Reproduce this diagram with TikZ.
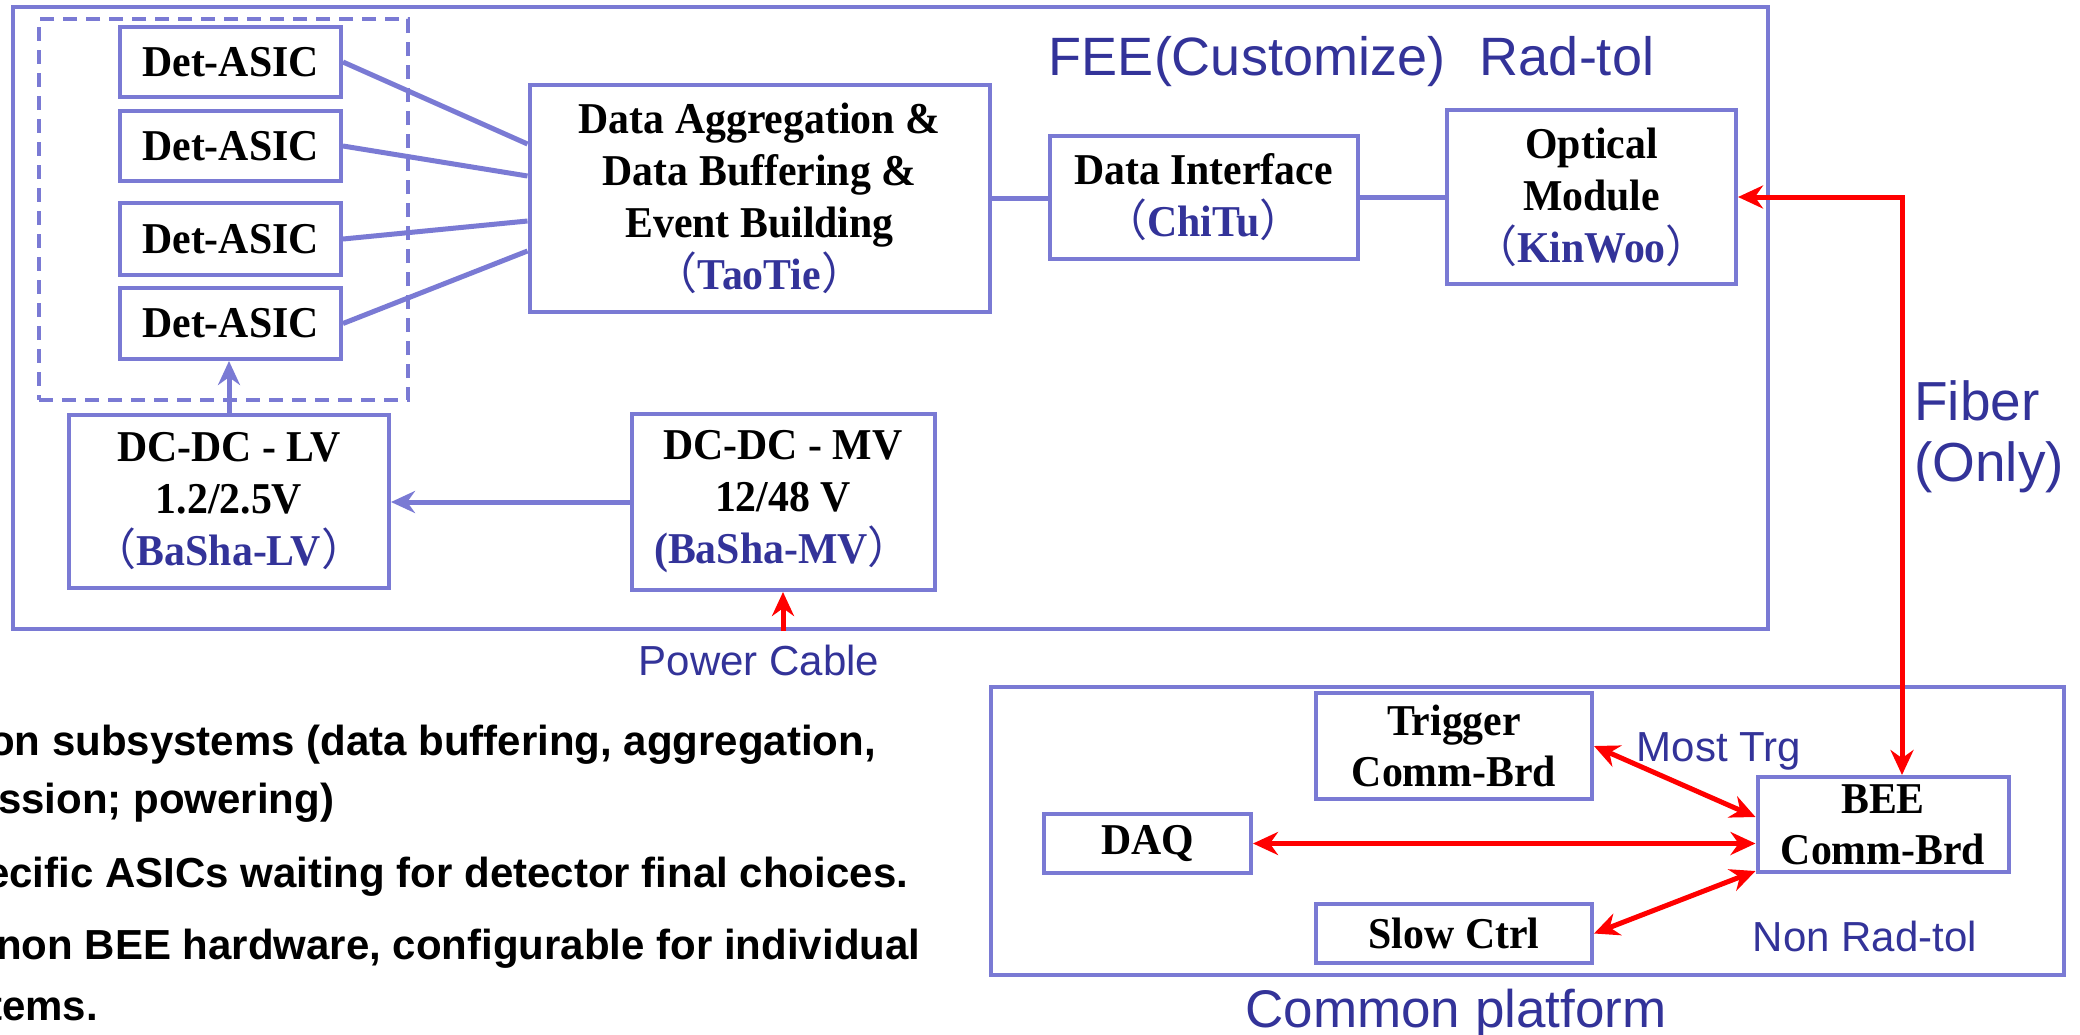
\documentclass[tikz,border=0pt]{standalone}
\usepackage{fontspec}
\setmainfont[FakeStretch=0.95]{Liberation Serif}
\newfontfamily\arialf{Liberation Sans}
\newfontfamily\cjkf{Noto Sans CJK SC}
\usetikzlibrary{arrows.meta}
\definecolor{bord}{RGB}{122,122,212}
\definecolor{lblue}{RGB}{51,51,153}
\newcommand{\fwl}{{\cjkf\mdseries （}}
\newcommand{\fwr}{{\cjkf\mdseries ）}}
\begin{document}
\begin{tikzpicture}[x=1pt,y=-1pt,
 box/.style={draw=bord,line width=4pt,inner sep=0pt,align=center,font=\fontsize{44}{51}\selectfont\bfseries},
 mbox/.style={box,font=\fontsize{44}{52}\selectfont\bfseries},
 conn/.style={draw=bord,line width=5pt},
 barrow/.style={draw=bord,line width=5pt,-{Stealth[length=24pt,width=22pt]}},
 rarrow/.style={draw=red,line width=5pt,{Stealth[length=25pt,width=23pt]}-{Stealth[length=25pt,width=23pt]}},
 rsingle/.style={draw=red,line width=5pt,-{Stealth[length=24pt,width=22pt]}},
 lbl/.style={text=lblue,font=\arialf\fontsize{54}{61}\selectfont,inner sep=0pt},
 slbl/.style={text=lblue,font=\arialf\fontsize{42}{42}\selectfont,inner sep=0pt},
 bul/.style={font=\arialf\bfseries\fontsize{42}{42}\selectfont,inner sep=0pt,anchor=base west}]
\clip (0,0) rectangle (2080,1034);
\fill[white] (0,0) rectangle (2080,1034);

% FEE outer box and dashed group
\node[draw=bord,line width=4pt,minimum width=1755pt,minimum height=622pt,inner sep=0pt] (fee) at (890.5,318) {};
\node[draw=bord,line width=4pt,dash pattern=on 14pt off 9pt,minimum width=369pt,minimum height=381pt,inner sep=0pt] (grp) at (223.5,209.5) {};

% Det-ASIC boxes
\node[box,minimum width=221pt,minimum height=70pt] (a1) at (230.5,62) {Det-ASIC};
\node[box,minimum width=221pt,minimum height=70pt] (a2) at (230.5,146) {Det-ASIC};
\node[box,minimum width=221pt,minimum height=72pt] (a3) at (230.5,239) {Det-ASIC};
\node[box,minimum width=221pt,minimum height=71pt] (a4) at (230.5,323.5) {Det-ASIC};

\node[mbox,minimum width=460pt,minimum height=227pt] (agg) at (759.5,198)
 {Data Aggregation \&\\Data Buffering \&\\Event Building\\{\color{lblue}\fwl TaoTie\fwr}};
\node[mbox,minimum width=308pt,minimum height=123pt] (dif) at (1203.5,197)
 {Data Interface\\{\color{lblue}\fwl ChiTu\fwr}};
\node[mbox,minimum width=289pt,minimum height=174pt] (opt) at (1591.5,197)
 {Optical\\Module\\{\color{lblue}\fwl KinWoo\fwr}};

\node[mbox,minimum width=320pt,minimum height=173pt] (lv) at (229,501.5)
 {DC-DC - LV\\1.2/2.5V\\{\color{lblue}\fwl BaSha-LV\fwr}};
\node[mbox,minimum width=303pt,minimum height=176pt] (mv) at (783,502)
 {DC-DC - MV\\12/48 V\\{\color{lblue}(BaSha-MV\fwr}};

% FEE labels
\node[lbl,anchor=base] (feel) at (1247,75) {FEE(Customize)};
\node[lbl,anchor=base] (radl) at (1567,75) {Rad-tol};

% connectors in FEE
\draw[conn] (a1.east) -- ([yshift=54pt]agg.west);
\draw[conn] (a2.east) -- ([yshift=22pt]agg.west);
\draw[conn] (a3.east) -- ([yshift=-23pt]agg.west);
\draw[conn] (a4.east) -- ([yshift=-53pt]agg.west);
\draw[conn] (agg.east) -- (agg.east -| dif.west);
\draw[conn] (dif.east) -- (dif.east -| opt.west);
\draw[barrow] (mv.west) -- (mv.west -| lv.east);
\draw[barrow] (lv.north) -- (lv.north |- a4.south);

% power cable
\coordinate (pcs) at (mv.south |- fee.south);
\draw[rsingle] (pcs) -- (mv.south);
\node[slbl,anchor=base] (pcl) at (759,675) {Power Cable};

% Common platform
\node[draw=bord,line width=4pt,minimum width=1073pt,minimum height=288pt,inner sep=0pt] (cp) at (1527.5,831) {};
\node[box,minimum width=276pt,minimum height=106pt] (trg) at (1454,746) {Trigger\\Comm-Brd};
\node[box,minimum width=207pt,minimum height=59pt] (daq) at (1147.5,843.5) {DAQ};
\node[box,minimum width=251pt,minimum height=95pt] (bee) at (1883,824.5) {BEE\\Comm-Brd};
\node[box,minimum width=276pt,minimum height=59pt] (slow) at (1454,933.5) {Slow Ctrl};

\draw[rarrow] (trg.east) -- ([yshift=7.5pt]bee.west);
\draw[rarrow] (daq.east) -- (daq.east -| bee.west);
\draw[rarrow] (slow.east) -- ([yshift=3pt]bee.south west);

\node[slbl,anchor=base] (mtl) at (1719,761) {Most Trg};
\node[slbl,anchor=base] (nrl) at (1865,951) {Non Rad-tol};
\node[lbl,anchor=base,font=\arialf\fontsize{53}{53}\selectfont] (cpl) at (1456,1027) {Common platform};

% fiber
\coordinate (fc) at (1902,197);
\draw[rarrow] (opt.east) -- (fc) -- (fc |- bee.north);
\node[lbl,anchor=west,align=left,font=\arialf\fontsize{55}{61}\selectfont] (fib) at (1914,437) {Fiber\\(Only)};

% bullet text
\node[bul] (b1) at (-11,755) {on subsystems (data buffering, aggregation,};
\node[bul] (b2) at (-2,813) {ssion; powering)};
\node[bul] (b3) at (-14,887) {ecific ASICs waiting for detector final choices.};
\node[bul] (b4) at (-4,959) {non BEE hardware, configurable for individual};
\node[bul] (b5) at (-12,1020) {tems.};
\end{tikzpicture}
\end{document}
